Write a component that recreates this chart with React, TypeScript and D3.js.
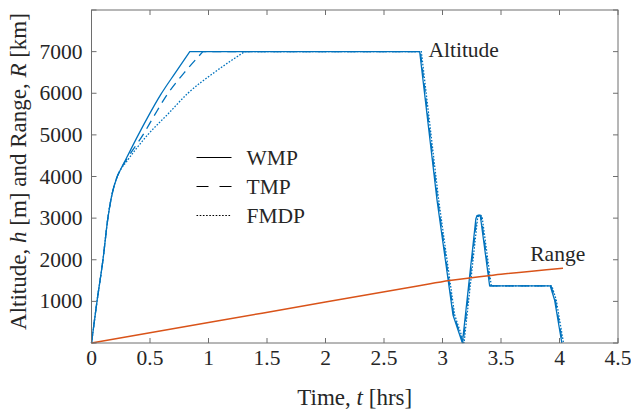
import React from "react";
import * as d3 from "d3";

type Pt = [number, number];

// climb phase of each profile (t in hrs, h in m)
const wmpClimb: Pt[] = [
  [0, 0], [0.047, 1000], [0.098, 2000], [0.14, 3000], [0.17, 3500], [0.22, 4000], [0.24, 4120],
  [0.3, 4450], [0.4, 5000], [0.48, 5420], [0.59, 5960], [0.716, 6490], [0.84, 7000],
];
const tmpClimb: Pt[] = [
  [0, 0], [0.047, 1000], [0.098, 2000], [0.14, 3000], [0.17, 3500], [0.22, 4000], [0.24, 4120],
  [0.3, 4410], [0.44, 5000], [0.54, 5480], [0.647, 5970], [0.795, 6500], [0.952, 7000],
];
const fmdpClimb: Pt[] = [
  [0, 0], [0.047, 1000], [0.098, 2000], [0.14, 3000], [0.17, 3500], [0.22, 4000], [0.24, 4120],
  [0.3, 4360], [0.48, 5000], [0.653, 5500], [0.824, 6000], [1.05, 6500], [1.31, 7000],
];

// cruise + descent, shared by the three profiles
const descent: Pt[] = [
  [2.805, 7000], [2.953, 3440], [3.09, 673], [3.17, 0], [3.285, 2980], [3.295, 3060],
  [3.312, 3070], [3.324, 3040], [3.403, 1370], [3.921, 1370], [3.958, 1034], [4.02, 0],
];
const descentLag = [0, 0.006, 0.014];

const range: Pt[] = [
  [0, 0], [1, 490], [2, 985], [2.8, 1375], [3.06, 1500], [3.5, 1650], [4.03, 1795],
];

const xTicks = [0, 0.5, 1, 1.5, 2, 2.5, 3, 3.5, 4, 4.5];
const xTickLabels = ["0", "0.5", "1", "1.5", "2", "2.5", "3", "3.5", "4", "4.5"];
const yTicks = [0, 1000, 2000, 3000, 4000, 5000, 6000, 7000, 8000];
const yTickLabels = ["", "1000", "2000", "3000", "4000", "5000", "6000", "7000", ""];

const legendNames = ["WMP", "TMP", "FMDP"];
const dashes = ["none", "9,6", "1.6,1.6"];
const legendDashes = ["none", "12,11", "1.6,1.6"];

const BLUE = "#0072BD";
const ORANGE = "#D95319";
const TEXT = "#262626";
const AXIS = "#6e6e6e";
const FONT = "'Liberation Serif', 'Times New Roman', serif";
const FS = 21.5;
const LABEL_FS = 23;

const App = () => {
  const width = 631;
  const height = 412;
  const margin = { top: 10, right: 13, bottom: 69, left: 91.5 };
  const iw = width - margin.left - margin.right;
  const ih = height - margin.top - margin.bottom;

  const x = d3.scaleLinear().domain([0, 4.5]).range([0, iw]);
  const y = d3.scaleLinear().domain([0, 8000]).range([ih, 0]);

  const smooth = d3.line<Pt>().x((d) => x(d[0])).y((d) => y(d[1])).curve(d3.curveMonotoneX);
  const straight = d3.line<Pt>().x((d) => x(d[0])).y((d) => y(d[1]));

  const climbs = [wmpClimb, tmpClimb, fmdpClimb];
  const profilePath = (i: number) => {
    const c = smooth(climbs[i]) as string;
    const d = descent.map((p) => [p[0] + descentLag[i], p[1]] as Pt);
    const flatStart: Pt = climbs[i][climbs[i].length - 1];
    return c + "L" + (straight([flatStart, ...d]) as string).slice(1);
  };

  const tl = 5;

  return (
    <svg
      width={width}
      height={height}
      style={{ position: "absolute", left: 0, top: 0, background: "#fff" }}
      fontFamily={FONT}
    >
      <g transform={`translate(${margin.left},${margin.top})`}>
        {/* profiles */}
        {[2, 1, 0].map((i) => (
          <path
            key={i}
            d={profilePath(i)}
            fill="none"
            stroke={BLUE}
            strokeWidth={1.3}
            strokeDasharray={dashes[i]}
          />
        ))}
        <path d={smooth(range) as string} fill="none" stroke={ORANGE} strokeWidth={1.5} />

        {/* frame and ticks */}
        <rect x={0} y={0} width={iw} height={ih} fill="none" stroke={AXIS} strokeWidth={1} />
        {xTicks.map((t, i) => (
          <g key={"x" + i}>
            <line x1={x(t)} x2={x(t)} y1={ih} y2={ih - tl} stroke={AXIS} />
            <line x1={x(t)} x2={x(t)} y1={0} y2={tl} stroke={AXIS} />
            <text x={x(t)} y={ih + 22} textAnchor="middle" fontSize={FS} fill={TEXT}>
              {xTickLabels[i]}
            </text>
          </g>
        ))}
        {yTicks.map((t, i) => (
          <g key={"y" + i}>
            <line x1={0} x2={tl} y1={y(t)} y2={y(t)} stroke={AXIS} />
            <line x1={iw} x2={iw - tl} y1={y(t)} y2={y(t)} stroke={AXIS} />
            <text x={-9} y={y(t) + 7} textAnchor="end" fontSize={FS} fill={TEXT}>
              {yTickLabels[i]}
            </text>
          </g>
        ))}

        {/* annotations */}
        <text x={x(2.88)} y={y(7000) + 5} fontSize={FS} fill={TEXT}>Altitude</text>
        <text x={x(3.75)} y={y(1980)} fontSize={FS} fill={TEXT}>Range</text>

        {/* legend */}
        {legendNames.map((n, i) => (
          <g key={n} transform={`translate(${196.5 - margin.left},${157.5 - margin.top + i * 29})`}>
            <line x1={0} x2={35} y1={0} y2={0} stroke="#000" strokeWidth={1} strokeDasharray={legendDashes[i]} />
            <text x={50} y={7} fontSize={FS} fill={TEXT}>{n}</text>
          </g>
        ))}
      </g>

      {/* axis labels */}
      <text x={margin.left + iw / 2} y={405} textAnchor="middle" fontSize={LABEL_FS} fill={TEXT}>
        Time, <tspan fontStyle="italic">t</tspan> [hrs]
      </text>
      <text
        transform={`translate(26,${margin.top + ih / 2 - 5}) rotate(-90)`}
        textAnchor="middle"
        fontSize={LABEL_FS}
        fill={TEXT}
      >
        Altitude, <tspan fontStyle="italic">h</tspan> [m] and Range, <tspan fontStyle="italic">R</tspan> [km]
      </text>
    </svg>
  );
};

export default App;
